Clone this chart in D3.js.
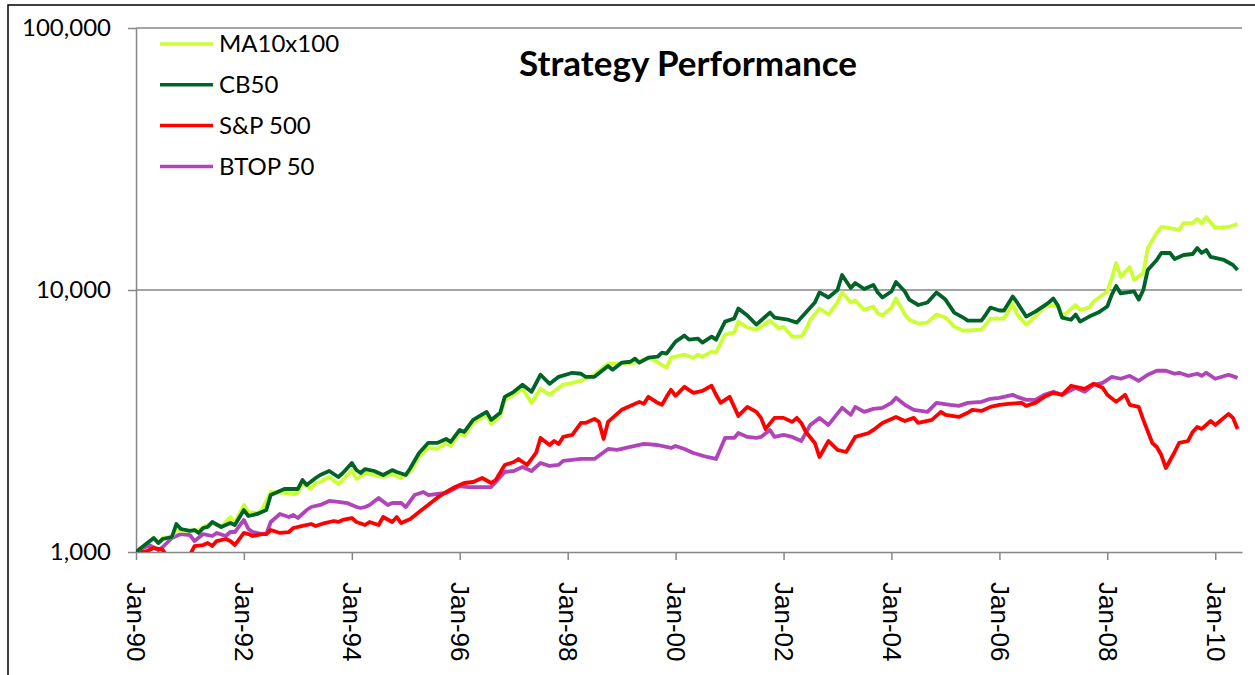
<!DOCTYPE html>
<html>
<head>
<meta charset="utf-8">
<script src="https://cdn.jsdelivr.net/npm/d3@7"></script>
<style>
	body { margin: 0; background: #fff; }
	svg { display: block; }
</style>
</head>
<body>
<div id="graph"></div>
<script>
// each point is [months since Jan-90, value]
var ma10x100 = [[0,1000],[4,1131],[5,1082],[6,1131],[8,1141],[9,1224],[10,1203],[12,1203],[14,1213],[15,1246],[17,1290],[19,1246],[21,1360],[22,1290],[24,1512],[25,1421],[27,1409],[28,1446],[30,1694],[33,1680],[35,1665],[36,1680],[37,1834],[39,1740],[40,1834],[41,1850],[43,1933],[45,1818],[46,1883],[48,2055],[49,1900],[51,2003],[53,1968],[55,1933],[57,1985],[59,1916],[61,2020],[63,2305],[65,2495],[67,2474],[69,2607],[70,2540],[72,2847],[73,2774],[75,3110],[78,3337],[79,3083],[81,3307],[82,3808],[84,3981],[86,4197],[88,3709],[90,4197],[92,3981],[94,4233],[95,4348],[97,4424],[99,4500],[102,4748],[105,5232],[108,5232],[111,5278],[114,5515],[115,5420],[118,5050],[119,5515],[122,5663],[124,5515],[125,5663],[126,5563],[128,5814],[129,5764],[131,6760],[133,6875],[134,7575],[136,7186],[138,7060],[141,7640],[143,7124],[144,7248],[146,6636],[148,6636],[149,7060],[150,7700],[152,8499],[154,8060],[156,8960],[157,9786],[159,8960],[160,9120],[162,8400],[164,8647],[165,8132],[166,7990],[168,8570],[169,9283],[171,8060],[172,7700],[174,7445],[176,7510],[178,8060],[180,7850],[182,7248],[184,6990],[188,7060],[189,7380],[190,7781],[193,7781],[195,8883],[196,8060],[198,7380],[200,7917],[202,8647],[205,8765],[206,7917],[209,8765],[210,8400],[212,8570],[213,9037],[216,9871],[217,11110],[218,12680],[219,11210],[221,12240],[222,10920],[224,11610],[225,14460],[227,16500],[228,17400],[231,17100],[232,16950],[233,18000],[235,18000],[236,18700],[237,18000],[238,19000],[240,17250],[243,17400],[245,17850]];

var cb50 = [[0,1000],[4,1131],[5,1082],[6,1121],[8,1141],[9,1279],[10,1224],[12,1203],[13,1213],[14,1182],[15,1235],[16,1246],[17,1302],[19,1246],[21,1290],[22,1268],[24,1446],[25,1372],[27,1397],[29,1446],[30,1650],[33,1740],[34,1740],[36,1740],[37,1883],[38,1802],[40,1916],[41,1968],[43,2038],[45,1933],[46,2003],[48,2187],[49,2055],[50,2003],[51,2073],[53,2038],[55,1968],[57,2055],[58,2020],[60,1968],[61,2092],[63,2388],[65,2607],[67,2607],[69,2701],[70,2630],[72,2924],[73,2872],[75,3193],[78,3426],[79,3193],[81,3400],[82,3910],[84,4086],[86,4348],[88,4086],[90,4748],[92,4386],[94,4663],[97,4831],[99,4790],[100,4663],[102,4663],[105,5128],[106,4960],[108,5278],[110,5323],[111,5468],[112,5278],[114,5515],[116,5563],[117,5764],[118,5714],[120,6350],[122,6700],[123,6465],[125,6523],[126,6295],[128,6636],[129,6465],[131,7575],[133,7781],[134,8499],[136,7990],[138,7377],[141,8200],[142,7850],[145,7700],[147,7510],[149,8200],[151,8960],[152,9786],[154,9364],[156,10000],[157,11410],[159,10177],[160,10634],[162,10088],[164,10449],[165,9786],[166,9364],[168,9871],[169,10728],[171,9871],[172,9190],[174,8765],[176,8960],[178,9786],[180,9190],[182,8200],[184,7850],[185,7640],[188,7640],[189,8060],[190,8570],[192,8350],[193,8350],[195,9445],[196,8960],[198,7917],[200,8274],[202,8720],[203,8960],[204,9283],[205,8720],[206,7850],[208,7700],[209,8060],[210,7575],[212,7917],[214,8200],[216,8647],[217,9600],[218,10358],[219,9702],[222,9871],[223,9190],[224,10000],[225,11920],[227,13020],[228,13840],[230,13840],[231,13130],[233,13600],[235,13720],[236,14460],[237,13840],[238,14210],[239,13370],[242,13020],[244,12460],[245,11920]];

var sp500 = [[0,1000],[2,1000],[4,1036],[6,1018],[7,957],[8,900],[9,850],[10,870],[11,920],[12,974],[13,1054],[15,1063],[16,1082],[17,1054],[18,1101],[20,1121],[21,1101],[22,1063],[24,1182],[25,1171],[26,1151],[28,1171],[29,1171],[30,1213],[32,1182],[34,1192],[35,1235],[37,1257],[39,1279],[40,1257],[42,1290],[44,1313],[45,1302],[46,1325],[48,1348],[49,1302],[51,1268],[52,1302],[54,1268],[55,1360],[57,1302],[58,1360],[59,1290],[61,1336],[63,1421],[65,1512],[67,1608],[69,1694],[71,1770],[73,1834],[75,1850],[77,1916],[79,1834],[80,1883],[82,2149],[84,2206],[85,2265],[87,2149],[89,2388],[90,2725],[92,2561],[93,2653],[94,2585],[95,2749],[97,2797],[99,3110],[100,3110],[102,3222],[103,3137],[104,2701],[105,3137],[108,3488],[109,3550],[112,3741],[113,3677],[114,3910],[116,3709],[117,3646],[118,3910],[119,4160],[120,3946],[122,4270],[124,4050],[126,4123],[128,4310],[129,3981],[130,3709],[132,3910],[134,3307],[136,3580],[138,3426],[139,3250],[140,2950],[142,3250],[144,3250],[146,3137],[147,3250],[148,3110],[149,2872],[151,2607],[152,2305],[154,2653],[156,2452],[158,2408],[160,2749],[163,2847],[164,2924],[166,3110],[169,3278],[171,3162],[173,3250],[174,3110],[177,3193],[179,3426],[180,3337],[183,3278],[185,3400],[186,3488],[188,3455],[190,3580],[192,3646],[194,3677],[197,3709],[198,3613],[200,3709],[202,3910],[204,4050],[206,3981],[208,4310],[210,4233],[211,4197],[213,4386],[215,4233],[216,3981],[218,3741],[220,3981],[221,3646],[223,3580],[224,3193],[226,2607],[227,2517],[228,2345],[229,2092],[231,2408],[232,2607],[234,2653],[235,2872],[236,3001],[237,2950],[239,3162],[240,3055],[243,3367],[244,3250],[245,2950]];

var btop50 = [[0,1000],[3,1063],[5,1018],[6,1045],[8,1131],[10,1171],[12,1161],[13,1101],[15,1171],[17,1151],[18,1182],[20,1151],[21,1192],[22,1192],[24,1325],[25,1224],[26,1192],[28,1171],[29,1171],[30,1302],[32,1397],[34,1360],[35,1384],[36,1348],[38,1446],[39,1485],[41,1512],[43,1566],[45,1552],[47,1538],[49,1485],[50,1472],[51,1485],[52,1512],[54,1608],[56,1512],[57,1538],[59,1538],[60,1485],[62,1650],[64,1694],[65,1650],[67,1665],[69,1680],[72,1786],[74,1770],[75,1770],[79,1770],[80,1850],[82,2020],[84,2038],[86,2111],[88,2038],[90,2187],[92,2130],[94,2149],[95,2226],[99,2265],[102,2265],[105,2474],[107,2452],[108,2474],[110,2517],[113,2585],[116,2561],[119,2495],[120,2540],[122,2474],[124,2388],[127,2305],[129,2265],[131,2725],[133,2725],[134,2847],[136,2749],[138,2725],[139,2749],[141,2924],[142,2749],[144,2797],[146,2749],[148,2653],[150,3055],[152,3250],[154,3055],[157,3550],[159,3337],[160,3580],[162,3426],[164,3519],[166,3550],[168,3709],[169,3876],[171,3646],[173,3488],[176,3426],[178,3709],[181,3646],[183,3613],[185,3709],[188,3741],[190,3843],[192,3876],[195,3981],[196,3910],[198,3808],[200,3808],[202,3981],[204,4086],[206,3981],[209,4233],[211,4086],[213,4348],[215,4424],[217,4663],[219,4584],[221,4705],[223,4500],[225,4748],[227,4918],[229,4918],[231,4790],[232,4831],[234,4705],[236,4790],[237,4705],[238,4831],[240,4584],[243,4748],[245,4620]];

var seriesNames = ["MA10x100", "CB50", "S&P 500", "BTOP 50"];
var seriesColors = ["#ccff33", "#006429", "#ff0000", "#b044b8"];
var yTickValues = [1000, 10000, 100000];

var w = 1255, h = 675;
var margin = {left: 136, top: 28, right: 13, bottom: 123};

var svg = d3.select("#graph").append("svg")
	.attr("width", w).attr("height", h);

// outer chart frame, runs past the picture on the right and bottom
svg.append("rect").attr("x", 8).attr("y", 5)
	.attr("width", w + 20).attr("height", h + 20)
	.attr("fill", "#fff").attr("stroke", "#000").attr("stroke-width", 1.5);

var x = d3.scaleUtc()
	.domain([new Date(Date.UTC(1990, 0, 1)), new Date(Date.UTC(2010, 6, 1))])
	.range([margin.left, w - margin.right]);
var y = d3.scaleLog()
	.domain([1000, 100000])
	.range([h - margin.bottom, margin.top]);

function monthDate(m) {
	return new Date(Date.UTC(1990, m, 1));
}

// gridlines
svg.append("g").selectAll("line").data(yTickValues.slice(1)).enter().append("line")
	.attr("x1", margin.left).attr("x2", w - margin.right)
	.attr("y1", function (d) { return y(d); }).attr("y2", function (d) { return y(d); })
	.attr("stroke", "#868686").attr("stroke-width", 1.5);

var yAxis = svg.append("g")
	.attr("transform", "translate(" + margin.left + ",0)")
	.call(d3.axisLeft(y).tickValues(yTickValues).tickFormat(d3.format(","))
		.tickSize(8).tickSizeOuter(0).tickPadding(17));
yAxis.selectAll("text").attr("font-family", "Lato").attr("font-size", "24px").attr("fill", "#000");

var xAxis = svg.append("g")
	.attr("transform", "translate(0," + (h - margin.bottom) + ")")
	.call(d3.axisBottom(x).ticks(d3.utcYear.every(2)).tickFormat(d3.utcFormat("%b-%y"))
		.tickSize(8).tickSizeOuter(0));
xAxis.selectAll("text")
	.attr("font-family", "Liberation Sans").attr("font-size", "26px").attr("fill", "#000")
	.attr("transform", "rotate(90)").attr("x", 30).attr("y", 0).attr("dy", "0.35em")
	.style("text-anchor", "start");

svg.selectAll(".domain, .tick line").attr("stroke", "#868686").attr("stroke-width", 1.5);

svg.append("clipPath").attr("id", "plotClip").append("rect")
	.attr("x", margin.left).attr("y", margin.top - 5)
	.attr("width", w - margin.left - margin.right).attr("height", h - margin.top - margin.bottom + 5);

var line = d3.line()
	.x(function (d) { return x(monthDate(d[0])); })
	.y(function (d) { return y(d[1]); });

var allSeries = [ma10x100, cb50, sp500, btop50];
var plot = svg.append("g").attr("clip-path", "url(#plotClip)");
// draw BTOP first, then red, then the greens on top like the original
[3, 2, 0, 1].forEach(function (i) {
	plot.append("path").datum(allSeries[i])
		.attr("d", line)
		.attr("fill", "none")
		.attr("stroke", seriesColors[i])
		.attr("stroke-width", 3.8)
		.attr("stroke-linejoin", "round");
});

// legend
var legend = svg.append("g").selectAll("g").data(seriesNames).enter().append("g")
	.attr("transform", function (d, i) { return "translate(160," + (44 + i * 40.8) + ")"; });
legend.append("line").attr("x1", 0).attr("x2", 53)
	.attr("stroke", function (d, i) { return seriesColors[i]; })
	.attr("stroke-width", 3.5);
legend.append("text").attr("x", 59).attr("dy", "0.35em")
	.attr("font-family", "Lato").attr("font-size", "24px").attr("fill", "#000")
	.text(function (d) { return d; });

svg.append("text").attr("x", 688).attr("y", 76)
	.attr("text-anchor", "middle")
	.attr("font-family", "Lato").attr("font-weight", "bold").attr("font-size", "35px")
	.text("Strategy Performance");
</script>
</body>
</html>
